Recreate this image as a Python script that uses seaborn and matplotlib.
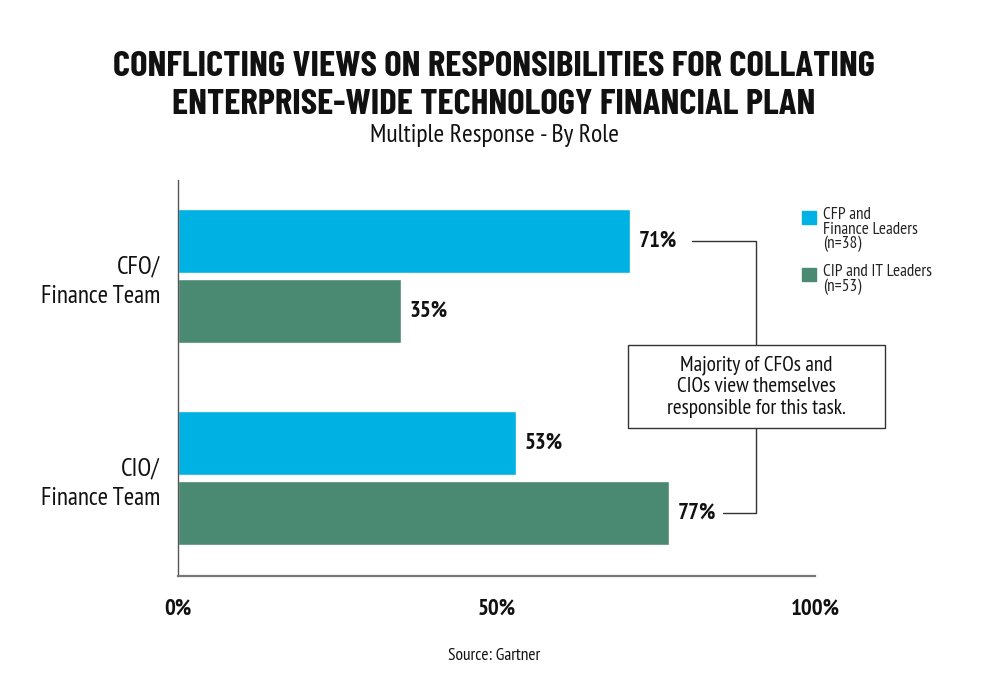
import seaborn as sns
import matplotlib.pyplot as plt
import matplotlib.patches as mpatches
import pandas as pd

roles = ["CFO/\nFinance Team", "CFO/\nFinance Team", "CIO/\nFinance Team", "CIO/\nFinance Team"]
groups = ["CFP and Finance Leaders", "CIP and IT Leaders",
          "CFP and Finance Leaders", "CIP and IT Leaders"]
values = [71, 35, 53, 77]
legend_labels = ["CFP and\nFinance Leaders\n(n=38)", "CIP and IT Leaders\n(n=53)"]
tick_labels = ["0%", "50%", "100%"]
colors = ["#00B2E3", "#4A8A72"]

df = pd.DataFrame({"role": roles, "group": groups, "value": values})

sns.set_style("white")
plt.rcParams['font.family'] = ['PT Sans Narrow', 'DejaVu Sans']
plt.rcParams['text.color'] = "#111111"

fig = plt.figure(figsize=(9.88, 6.88), dpi=100)
ax = fig.add_axes([0.180, 0.1628, 0.645, 0.5752])

sns.barplot(
    data=df, y="role", x="value", hue="group",
    palette=colors, saturation=1, orient="h", width=0.693, gap=0.087,
    legend=False, ax=ax
)

ax.set_xlim(0, 100)
ax.set_ylim(1.485, -0.475)
ax.set_xticks([0, 50, 100])
ax.set_xticklabels(tick_labels, fontsize=16.5, fontweight="bold", color="#111111")
ax.tick_params(axis="x", length=0, pad=16)
ax.tick_params(axis="y", length=0, pad=13, labelsize=18, labelcolor="#111111")
for lbl in ax.get_yticklabels():
    lbl.set_horizontalalignment("right")
    lbl.set_linespacing(1.35)
ax.set_xlabel("")
ax.set_ylabel("")
for s in ["top", "right"]:
    ax.spines[s].set_visible(False)
ax.spines["left"].set_color("#555555")
ax.spines["bottom"].set_color("#777777")
ax.spines["left"].set_linewidth(1.0)
ax.spines["bottom"].set_linewidth(1.6)

# value labels
bar_centers = {}
for container, grp in zip(ax.containers, ["CFP and Finance Leaders", "CIP and IT Leaders"]):
    for bar in container:
        w = bar.get_width()
        yc = bar.get_y() + bar.get_height() / 2
        ax.text(w + 1.4, yc, f"{w:.0f}%", va="center", ha="left",
                fontsize=16.5, fontweight="bold")
        bar_centers[(grp, round(w))] = yc

# annotation connectors and box
conn_x = 90.8
box_y = 0.547
box_hw, box_hh = 20.2, 0.205
y_top = bar_centers[("CFP and Finance Leaders", 71)]
y_bot = bar_centers[("CIP and IT Leaders", 77)]
line_kw = dict(color="#333333", lw=1.0, clip_on=False)
ax.plot([71 + 9.7, conn_x, conn_x], [y_top, y_top, box_y - box_hh], **line_kw)
ax.plot([77 + 8.6, conn_x, conn_x], [y_bot, y_bot, box_y + box_hh], **line_kw)
ax.add_patch(mpatches.Rectangle((conn_x - box_hw, box_y - box_hh), 2 * box_hw, 2 * box_hh,
                                fc="white", ec="#333333", lw=1.0, clip_on=False, zorder=3))
ax.text(conn_x, box_y, "Majority of CFOs and\nCIOs view themselves\nresponsible for this task.",
        ha="center", va="center", fontsize=15.3, linespacing=1.15, clip_on=False, zorder=4)

# legend
for i, (lab, col) in enumerate(zip(legend_labels, colors)):
    y0 = 0.693 - i * 0.083
    fig.patches.append(mpatches.Rectangle((0.812, y0 - 0.018), 0.0135, 0.018,
                                          transform=fig.transFigure, color=col))
    fig.text(0.833, y0 + 0.006, lab, ha="left", va="top", fontsize=12.3,
             linespacing=0.88, color="#222222")

fig.text(0.5, 0.875, "CONFLICTING VIEWS ON RESPONSIBILITIES FOR COLLATING\nENTERPRISE-WIDE TECHNOLOGY FINANCIAL PLAN",
         ha="center", va="center", fontsize=26.5, fontweight=700, linespacing=1.2,
         family=['Barlow Condensed', 'DejaVu Sans'])
fig.text(0.5, 0.803, "Multiple Response - By Role", ha="center", va="center", fontsize=18.5)
fig.text(0.5, 0.047, "Source: Gartner", ha="center", va="center", fontsize=12.5)

fig.savefig("out.png", dpi=100)
